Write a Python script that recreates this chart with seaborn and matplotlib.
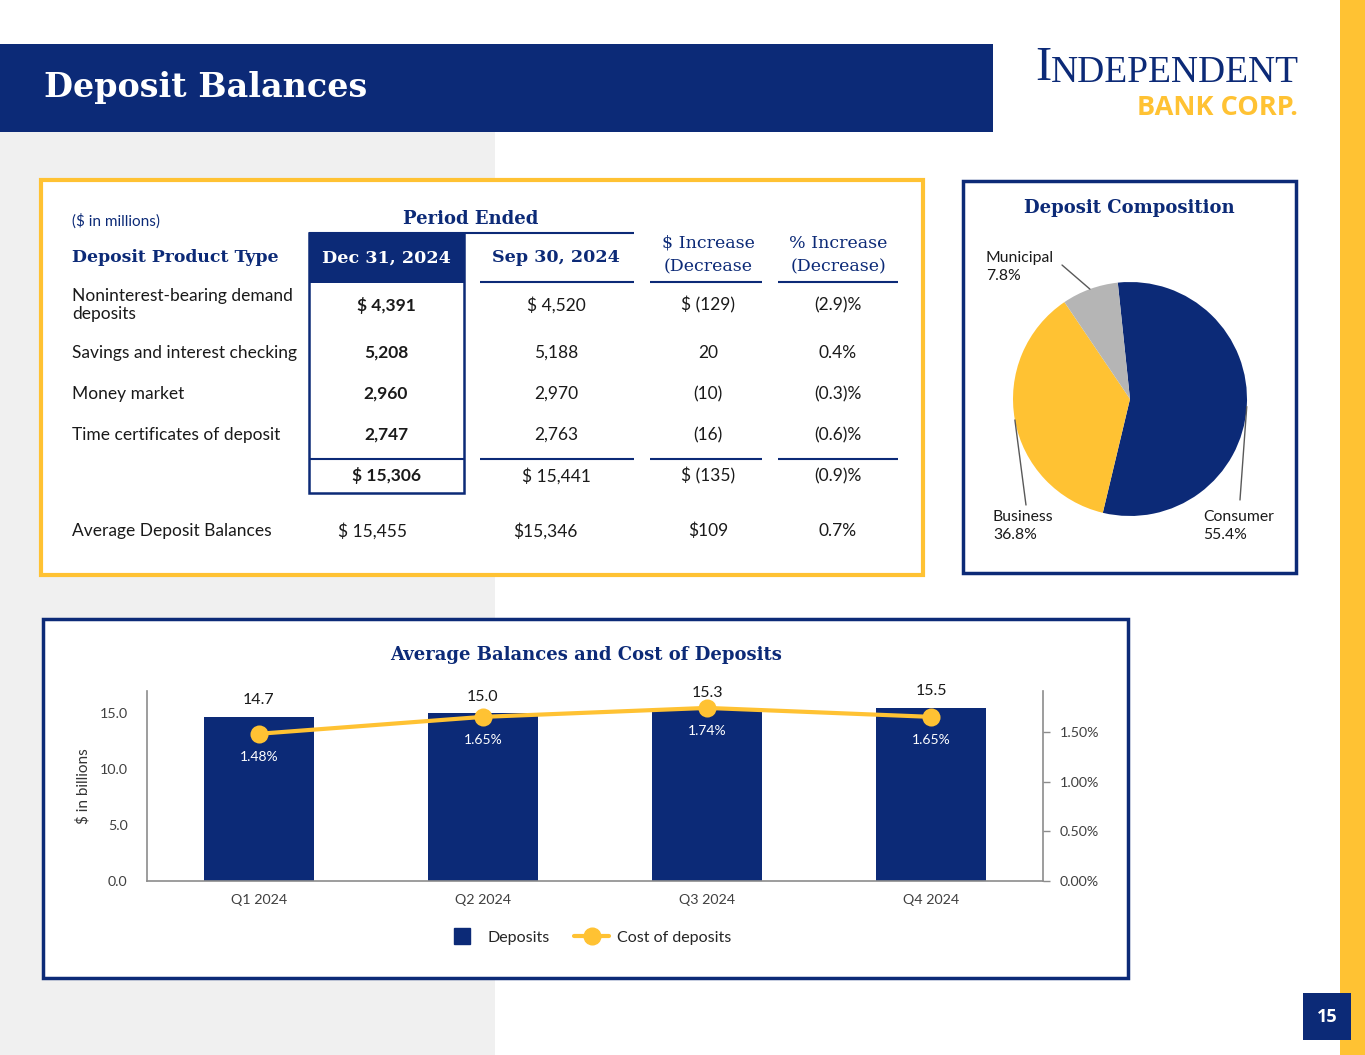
import numpy as np
import matplotlib
matplotlib.use('Agg')
import matplotlib.pyplot as plt
from matplotlib.patches import Rectangle
from matplotlib.lines import Line2D
from matplotlib.ticker import FuncFormatter
import seaborn as sns

# ---- data ----
row_labels = ['Noninterest-bearing demand\ndeposits', 'Savings and interest checking',
              'Money market', 'Time certificates of deposit', '']
dec_2024 = ['$ 4,391', '5,208', '2,960', '2,747', '$ 15,306']
sep_2024 = ['$ 4,520', '5,188', '2,970', '2,763', '$ 15,441']
dollar_change = ['$ (129)', '20', '(10)', '(16)', '$ (135)']
pct_change = ['(2.9)%', '0.4%', '(0.3)%', '(0.6)%', '(0.9)%']
avg_row = ['Average Deposit Balances', '$ 15,455', '$15,346', '$109', '0.7%']

segments = ['Consumer', 'Business', 'Municipal']
shares = [55.4, 36.8, 7.8]

quarters = ['Q1 2024', 'Q2 2024', 'Q3 2024', 'Q4 2024']
deposits = [14.7, 15.0, 15.3, 15.5]
cost_of_deposits = [1.48, 1.65, 1.74, 1.65]

# colours
navy = '#0C2A77'
yellow = '#FFC233'
grey_bg = '#F0F0F0'
pie_grey = '#B5B5B5'
txt = '#1A1A1A'
axis_grey = '#8C8C8C'

sns.set_style('white')
plt.rcParams['font.family'] = ['Lato', 'DejaVu Sans']
SERIF = 'DejaVu Serif'

W, H = 1365, 1055
fig = plt.figure(figsize=(W / 100, H / 100), dpi=100)

# background layer in pixel coordinates
bg = fig.add_axes([0, 0, 1, 1])
bg.set_xlim(0, W)
bg.set_ylim(H, 0)
bg.axis('off')
bg.set_zorder(0)


def box(x0, y0, x1, y1, **kw):
    bg.add_patch(Rectangle((x0, y0), x1 - x0, y1 - y0, **kw))


def hline(x0, x1, y, lw=1.5):
    bg.plot([x0, x1], [y, y], color=navy, lw=lw, solid_capstyle='butt')


def px_axes(x0, y0, x1, y1):
    return fig.add_axes([x0 / W, 1 - y1 / H, (x1 - x0) / W, (y1 - y0) / H])


# page furniture
box(0, 132, 495, H, color=grey_bg, lw=0)
box(1340, 0, W, H, color=yellow, lw=0)
box(0, 44, 993, 132, color=navy, lw=0)
bg.text(44, 88, 'Deposit Balances', color='white', fontsize=24, fontweight='bold',
        family=SERIF, va='center', ha='left')

logo_i = bg.text(1035, 90, 'I', color=navy, fontsize=35, family='Liberation Serif',
                 va='bottom', ha='left')
bg.annotate('NDEPENDENT', xy=(1, 0), xycoords=logo_i, color=navy, fontsize=27,
            family='Liberation Serif', va='bottom', ha='left')
bg.text(1298, 108, 'BANK CORP.', color=yellow, fontsize=19.5, fontweight='bold',
        family='Open Sans', va='center', ha='right')

box(1303, 993, 1351, 1040, color=navy, lw=0)
bg.text(1327, 1017, '15', color='white', fontsize=13, fontweight='bold',
        family='Open Sans', va='center', ha='center')

# ---- table panel ----
box(41, 180, 923, 575, facecolor='white', edgecolor=yellow, lw=3)
bg.text(72, 221, '($ in millions)', color=navy, fontsize=11, va='center')
bg.text(471, 219, 'Period Ended', color=navy, fontsize=13, fontweight='bold',
        family=SERIF, va='center', ha='center')
bg.text(72, 258, 'Deposit Product Type', color=navy, fontsize=12.4, fontweight='bold',
        family=SERIF, va='center')

box(309, 233, 464, 283, color=navy, lw=0)
box(309, 233, 464, 493, facecolor='none', edgecolor=navy, lw=1.8)
hline(309, 634, 233)
hline(309, 464, 459)
bg.text(386, 258, 'Dec 31, 2024', color='white', fontsize=12.6, fontweight='bold',
        family=SERIF, va='center', ha='center')
bg.text(556, 258, 'Sep 30, 2024', color=navy, fontsize=12.6, fontweight='bold',
        family=SERIF, va='center', ha='center')
bg.text(708, 255, '$ Increase\n(Decrease', color=navy, fontsize=12.5, family=SERIF,
        va='center', ha='center', linespacing=1.5)
bg.text(838, 255, '% Increase\n(Decrease)', color=navy, fontsize=12.5, family=SERIF,
        va='center', ha='center', linespacing=1.5)

for x0, x1 in [(480, 634), (650, 762), (778, 898)]:
    hline(x0, x1, 282)
    hline(x0, x1, 459)

col_x = [386, 556, 708, 838]
row_y = [305, 353, 394, 435, 476]
for i, y in enumerate(row_y):
    bg.text(72, y, row_labels[i], color=txt, fontsize=12.5, va='center', linespacing=1.2)
    bg.text(col_x[0], y, dec_2024[i], color=txt, fontsize=12.5, fontweight='bold',
            va='center', ha='center')
    bg.text(col_x[1], y, sep_2024[i], color=txt, fontsize=12.5, va='center', ha='center')
    bg.text(col_x[2], y, dollar_change[i], color=txt, fontsize=12.5, va='center', ha='center')
    bg.text(col_x[3], y, pct_change[i], color=txt, fontsize=12.5, va='center', ha='center')

avg_x = [72, 372, 545, 708, 838]
for j, s in enumerate(avg_row):
    bg.text(avg_x[j], 531, s, color=txt, fontsize=12.5, va='center',
            ha='left' if j == 0 else 'center')

# ---- pie panel ----
box(963, 181, 1296, 573, facecolor='white', edgecolor=navy, lw=2.5)
bg.text(1129, 208, 'Deposit Composition', color=navy, fontsize=13, fontweight='bold',
        family=SERIF, va='center', ha='center')

pax = px_axes(1013, 282, 1247, 516)
wedges, _ = pax.pie(shares, colors=[navy, yellow, pie_grey], startangle=96,
                    counterclock=False, wedgeprops=dict(linewidth=0))
pax.set_xlim(-1, 1)
pax.set_ylim(-1, 1)
pax.set_zorder(2)

# label anchor (text left, text middle) and leader end, in pie units
label_pos = {'Consumer': (0.624, -1.085, 0.94, -0.863),
             'Business': (-1.171, -1.085, -0.889, -0.906),
             'Municipal': (-1.231, 1.128, -0.581, 1.145)}
for w, name, share in zip(wedges, segments, shares):
    mid = np.deg2rad((w.theta1 + w.theta2) / 2)
    tx, ty, lx, ly = label_pos[name]
    pax.plot([np.cos(mid), lx], [np.sin(mid), ly], color='#595959', lw=1, clip_on=False)
    pax.text(tx, ty, f'{name}\n{share}%', color=txt, fontsize=11.3, va='center',
             ha='left', linespacing=1.3)

# ---- bar / line panel ----
box(43, 619, 1128, 978, facecolor='white', edgecolor=navy, lw=2.5)
bg.text(586, 655, 'Average Balances and Cost of Deposits', color=navy, fontsize=13,
        fontweight='bold', family=SERIF, va='center', ha='center')

ax = px_axes(147, 691, 1043, 881)
ax.set_zorder(2)
ax.patch.set_alpha(0)
sns.barplot(x=quarters, y=deposits, color=navy, saturation=1, width=0.49, ax=ax,
            edgecolor='none')
ax.set_xlim(-0.5, 3.5)
ax.set_ylim(0, 17)
ax.set_yticks([0, 5, 10, 15])
ax.yaxis.set_major_formatter(FuncFormatter(lambda v, p: f'{v:.1f}'))
ax.set_xlabel('')
ax.set_ylabel('$ in billions', fontsize=11, color='#333333')
ax.yaxis.set_label_coords(-0.063, 0.5)
ax.tick_params(axis='both', length=0, labelsize=10.3, labelcolor='#404040')
ax.tick_params(axis='y', pad=14)
ax.tick_params(axis='x', pad=9)
for sp in ['top', 'right']:
    ax.spines[sp].set_visible(False)
for sp in ['left', 'bottom']:
    ax.spines[sp].set_color(axis_grey)
    ax.spines[sp].set_linewidth(1.2)
for i, v in enumerate(deposits):
    ax.annotate(f'{v:.1f}', (i, v), xytext=(0, 12), textcoords='offset points',
                ha='center', va='center', fontsize=11.5, color=txt)

ax2 = ax.twinx()
sns.lineplot(x=np.arange(len(quarters)), y=cost_of_deposits, ax=ax2, color=yellow,
             lw=3, marker='o', markersize=13, markeredgewidth=0)
ax2.set_ylim(0, 1.91)
ax2.set_yticks([0, 0.5, 1.0, 1.5])
ax2.yaxis.set_major_formatter(FuncFormatter(lambda v, p: f'{v:.2f}%'))
ax2.set_ylabel('')
ax2.tick_params(axis='y', length=5, width=1, color=axis_grey, labelsize=10.3,
                labelcolor='#404040', pad=7, right=True)
for sp in ['top', 'left', 'bottom']:
    ax2.spines[sp].set_visible(False)
ax2.spines['right'].set_color(axis_grey)
ax2.spines['right'].set_linewidth(1.2)
for i, v in enumerate(cost_of_deposits):
    ax2.annotate(f'{v:.2f}%', (i, v), xytext=(0, -16.5), textcoords='offset points',
                 ha='center', va='center', fontsize=10, color='white')
ax.set_xlim(-0.5, 3.5)

handles = [Line2D([], [], marker='s', markersize=12, ls='none', color=navy),
           Line2D([], [], marker='o', markersize=12, lw=3, color=yellow)]
fig.legend(handles, ['Deposits', 'Cost of deposits'], loc='center',
           bbox_to_anchor=(588 / W, 1 - 938 / H), ncol=2, frameon=False,
           fontsize=11.5, handlelength=2.2, columnspacing=1.5, handletextpad=0.5)

fig.savefig('out.png', dpi=100)
